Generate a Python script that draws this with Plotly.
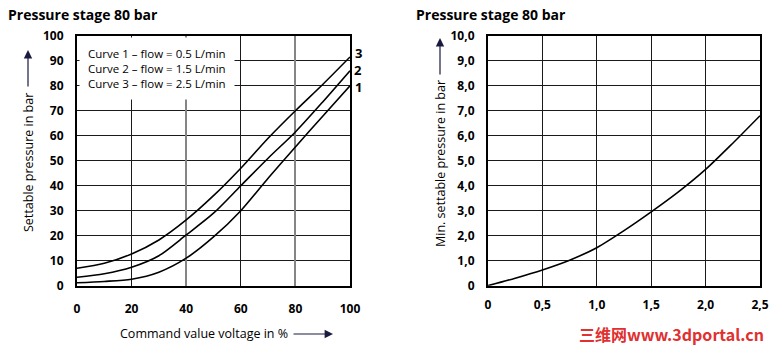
import plotly.graph_objects as go

W, H = 784, 347

# ---------- data (left chart) ----------
volt_pct = [0, 10, 20, 30, 40, 50, 60, 70, 80, 90, 100]
curve1 = [1.2, 1.7, 2.6, 5.4, 11, 19.5, 30, 43, 55.5, 67.8, 80]
curve2 = [3.4, 4.8, 7.4, 12, 20.3, 29, 40, 51, 61.5, 73.5, 86]
curve3 = [7, 9, 12.7, 18.3, 26.3, 36, 47, 59, 70, 80.5, 91.5]
left_xticks = [0, 20, 40, 60, 80, 100]
left_grid_black = [20, 60]
left_grid_gray = [40, 80]
left_yticks = [0, 10, 20, 30, 40, 50, 60, 70, 80, 90, 100]
curve_labels = ["1", "2", "3"]
legend_lines = ["Curve 1 \u2013 flow = 0.5 L/min",
                "Curve 2 \u2013 flow = 1.5 L/min",
                "Curve 3 \u2013 flow = 2.5 L/min"]

# ---------- data (right chart) ----------
flow = [0, 0.25, 0.5, 0.75, 1.0, 1.25, 1.5, 1.75, 2.0, 2.25, 2.5]
min_press = [0, 0.3, 0.63, 1.02, 1.52, 2.2, 2.95, 3.75, 4.65, 5.7, 6.8]
right_xticks = [0, 0.5, 1.0, 1.5, 2.0, 2.5]
right_xtext = ["0", "0,5", "1,0", "1,5", "2,0", "2,5"]
right_yticks = [0, 1, 2, 3, 4, 5, 6, 7, 8, 9, 10]
right_ytext = ["0", "1,0", "2,0", "3,0", "4,0", "5,0", "6,0", "7,0", "8,0", "9,0", "10,0"]

FONT = "Open Sans"

def px(x):
    return x / W

def py(y):
    return 1 - y / H

fig = go.Figure()
line = dict(color="black", width=1.6, shape="spline", smoothing=0.8)
# invisible helper traces so the overlay grid axes get drawn
for xa in ["x3", "x4"]:
    fig.add_trace(go.Scatter(x=[volt_pct[5]], y=[curve1[0]], mode="markers",
                             marker=dict(opacity=0, size=1), xaxis=xa, yaxis="y",
                             showlegend=False, hoverinfo="skip"))
for ys in [curve1, curve2, curve3]:
    fig.add_trace(go.Scatter(x=volt_pct, y=ys, mode="lines", line=line,
                             xaxis="x", yaxis="y", showlegend=False, hoverinfo="skip"))
fig.add_trace(go.Scatter(x=flow, y=min_press, mode="lines", line=line,
                         xaxis="x2", yaxis="y2", showlegend=False, hoverinfo="skip"))

ydom = [py(285.7), py(35.7)]
xdom1 = [px(77), px(350)]
axis_common = dict(showgrid=True, gridcolor="#1a1a1a", gridwidth=1.3,
                   showline=True, linecolor="black", linewidth=2.2, mirror=True,
                   ticks="", zeroline=False, automargin=False,
                   tickfont=dict(family=FONT, size=12, color="black", weight="bold"))
overlay_common = dict(overlaying="x", range=[0, 100], showticklabels=False, showgrid=True,
                      showline=False, zeroline=False, ticks="", anchor="y", automargin=False)

fig.update_layout(
    width=W, height=H, margin=dict(l=0, r=0, t=0, b=0, autoexpand=False),
    paper_bgcolor="white", plot_bgcolor="white",
    xaxis=dict(domain=xdom1, range=[0, 100], tickvals=left_xticks,
               ticklabelstandoff=11, anchor="y", **{**axis_common, "showgrid": False}),
    yaxis=dict(domain=ydom, range=[0, 100], tickvals=left_yticks,
               ticklabelstandoff=9, anchor="x", **axis_common),
    xaxis2=dict(domain=[px(488), px(760)], range=[0, 2.5], tickvals=right_xticks,
                ticktext=right_xtext, ticklabelstandoff=7, anchor="y2", **axis_common),
    yaxis2=dict(domain=ydom, range=[0, 10], tickvals=right_yticks, ticktext=right_ytext,
                ticklabelstandoff=9, anchor="x2", **axis_common),
    xaxis3=dict(tickvals=left_grid_gray, gridcolor="#858585", gridwidth=1.6, **overlay_common),
    xaxis4=dict(tickvals=left_grid_black, gridcolor="#1a1a1a", gridwidth=1.3, **overlay_common),
)

P = dict(xref="paper", yref="paper")
ann = []
# titles
for tx in [6, 414]:
    ann.append(dict(text="<b>Pressure stage 80 bar</b>", x=px(tx), y=py(14), xanchor="left",
                    yanchor="middle", showarrow=False,
                    font=dict(family=FONT, size=14, color="black"), **P))
# legend box
ann.append(dict(text="<br>".join(legend_lines), x=px(79), y=py(37), xanchor="left",
                yanchor="top", align="left", showarrow=False, bgcolor="white",
                borderpad=8, font=dict(family=FONT, size=11.5, color="black"), **P))
# curve labels
for lab, yy in zip(curve_labels, [87, 70, 53]):
    ann.append(dict(text="<b>%s</b>" % lab, x=px(358), y=py(yy), xanchor="center",
                    yanchor="middle", showarrow=False,
                    font=dict(family=FONT, size=13, color="black"), **P))
# axis titles
ann.append(dict(text="Command value voltage in %", x=px(204), y=py(333), xanchor="center",
                yanchor="middle", showarrow=False,
                font=dict(family=FONT, size=12.5, color="black"), **P))
ann.append(dict(text="Settable pressure in bar", x=px(28), y=py(163), textangle=-90,
                xanchor="center", yanchor="middle", showarrow=False,
                font=dict(family=FONT, size=12.5, color="black"), **P))
ann.append(dict(text="Min. settable pressure in bar", x=px(440), y=py(163), textangle=-90,
                xanchor="center", yanchor="middle", showarrow=False,
                font=dict(family=FONT, size=12.5, color="black"), **P))
# arrows
arrow_col = "#1a1a40"
ann.append(dict(text="", x=px(333), y=py(334), ax=-41, ay=0, showarrow=True,
                arrowhead=2, arrowsize=1.4, arrowwidth=1.2, arrowcolor=arrow_col, **P))
ann.append(dict(text="", x=px(28), y=py(50), ax=0, ay=38, showarrow=True,
                arrowhead=2, arrowsize=1.4, arrowwidth=1.2, arrowcolor=arrow_col, **P))
ann.append(dict(text="", x=px(440), y=py(38), ax=0, ay=38, showarrow=True,
                arrowhead=2, arrowsize=1.4, arrowwidth=1.2, arrowcolor=arrow_col, **P))
# watermark
ann.append(dict(text="<b>三维网www.3dportal.cn</b>", x=px(766), y=py(334), xanchor="right",
                yanchor="middle", showarrow=False,
                font=dict(family="Noto Sans CJK SC", size=16, color="#e03030"), **P))

fig.update_layout(annotations=ann)
fig.write_html("out.html")
